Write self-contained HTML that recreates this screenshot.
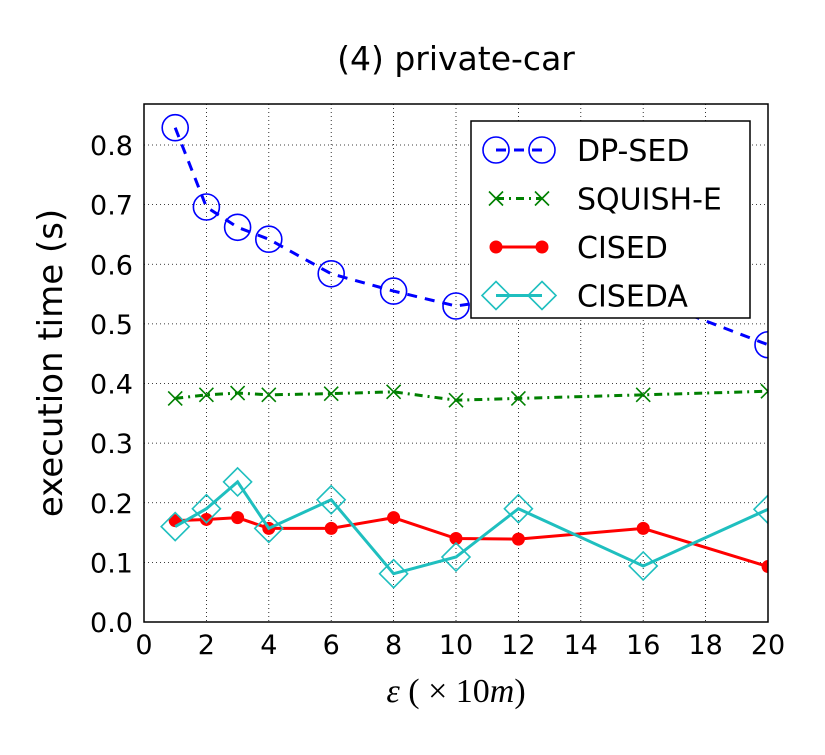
<!DOCTYPE html>
<html><head><meta charset="utf-8"><style>
body{margin:0;background:#fff;}
svg text{font-family:"DejaVu Sans","Liberation Sans",sans-serif;}
</style></head><body>
<svg id="chart" width="825" height="750" viewBox="0 0 825 750">
<text x="456" y="70" text-anchor="middle" font-size="33">(4) private-car</text>
<g id="grid"></g>
<g id="series"></g>
<rect x="144" y="104" width="624" height="518" fill="none" stroke="#000" stroke-width="1.5"/>
<g id="ticks"></g>
<text transform="translate(62,363) rotate(-90)" text-anchor="middle" font-size="34">execution time (s)</text>
<text x="456" y="702" text-anchor="middle" font-size="34" style="font-family:'Liberation Serif',serif"><tspan font-style="italic">ε</tspan> ( × 10<tspan font-style="italic">m</tspan>)</text>
<g id="legend"></g>
</svg>
<script>
const xVals=[1,2,3,4,6,8,10,12,16,20];
const dpsed=[0.829,0.696,0.662,0.642,0.584,0.555,0.530,0.545,0.545,0.465];
const squish=[0.375,0.381,0.384,0.381,0.383,0.386,0.372,0.375,0.381,0.387];
const cised=[0.170,0.172,0.175,0.157,0.157,0.175,0.140,0.139,0.157,0.093];
const ciseda=[0.160,0.190,0.235,0.157,0.205,0.081,0.109,0.190,0.094,0.189];
const xTicks=[0,2,4,6,8,10,12,14,16,18,20];
const yTicks=[0.0,0.1,0.2,0.3,0.4,0.5,0.6,0.7,0.8];
const NS="http://www.w3.org/2000/svg";
const X=v=>144+v*(624/20);
const Y=v=>622-v*596.25;
function mk(tag,attrs,parent){const e=document.createElementNS(NS,tag);for(const k in attrs)e.setAttribute(k,attrs[k]);parent.appendChild(e);return e;}
const grid=document.getElementById('grid'),ticks=document.getElementById('ticks'),ser=document.getElementById('series'),leg=document.getElementById('legend');
xTicks.forEach(t=>{
 const g=mk('line',{x1:X(t),x2:X(t),y1:104,y2:622,stroke:'#000','stroke-width':0.8,'stroke-dasharray':'1,3'},grid);
 
 
 const tx=mk('text',{x:X(t),y:654,'text-anchor':'middle','font-size':27},ticks);tx.textContent=t;
 
 
});
yTicks.forEach(t=>{
 const g=mk('line',{x1:144,x2:768,y1:Y(t),y2:Y(t),stroke:'#000','stroke-width':0.8,'stroke-dasharray':'1,3'},grid);
 
 
 const tx=mk('text',{x:133,y:Y(t)+10,'text-anchor':'end','font-size':27},ticks);tx.textContent=t.toFixed(1);
 
 
});
function marker(type,x,y,color,p){
 if(type==='o')return mk('circle',{cx:x,cy:y,r:13,fill:'none',stroke:color,'stroke-width':1.6},p);
 if(type==='x')return mk('path',{d:`M${x-7},${y-7}L${x+7},${y+7}M${x-7},${y+7}L${x+7},${y-7}`,stroke:color,'stroke-width':1.6},p);
 if(type==='.')return mk('circle',{cx:x,cy:y,r:6,fill:color,stroke:color},p);
 if(type==='d')return mk('path',{d:`M${x},${y-14}L${x+14},${y}L${x},${y+14}L${x-14},${y}Z`,fill:'none',stroke:color,'stroke-width':1.6},p);
}
const defs=[
 {name:'DP-SED',data:dpsed,color:'#0000ff',dash:'10,8',m:'o',slug:'dp-sed'},
 {name:'SQUISH-E',data:squish,color:'#008000',dash:'8,5,2,5',m:'x',slug:'squish-e'},
 {name:'CISED',data:cised,color:'#ff0000',dash:'',m:'.',slug:'cised'},
 {name:'CISEDA',data:ciseda,color:'#1fbfbf',dash:'',m:'d',slug:'ciseda'}
];
const clip=mk('clipPath',{id:'pc'},document.getElementById('chart'));mk('rect',{x:144,y:104,width:624,height:518},clip);
ser.setAttribute('clip-path','url(#pc)');
defs.forEach((s,i)=>{
 const g=mk('g',{},ser);
 
 
 const pts=s.data.map((v,j)=>X(xVals[j])+','+Y(v)).join(' ');
 const l=mk('polyline',{points:pts,fill:'none',stroke:s.color,'stroke-width':3,'stroke-dasharray':s.dash},g);
 
 
 s.data.forEach((v,j)=>{const m=marker(s.m,X(xVals[j]),Y(v),s.color,g);
  
  });
});
const lr=mk('rect',{x:471,y:121,width:279,height:197,fill:'#fff',stroke:'#000','stroke-width':1.5},leg);


defs.forEach((s,i)=>{
 const ly=150+i*48.5;
 const g=mk('g',{},leg);
 
 
 mk('line',{x1:496,x2:542,y1:ly,y2:ly,stroke:s.color,'stroke-width':3,'stroke-dasharray':s.dash},g);
 marker(s.m,496,ly,s.color,g);marker(s.m,542,ly,s.color,g);
 const t=mk('text',{x:577,y:ly+11,'font-size':30},g);t.textContent=s.name;
});
</script>
</body></html>
